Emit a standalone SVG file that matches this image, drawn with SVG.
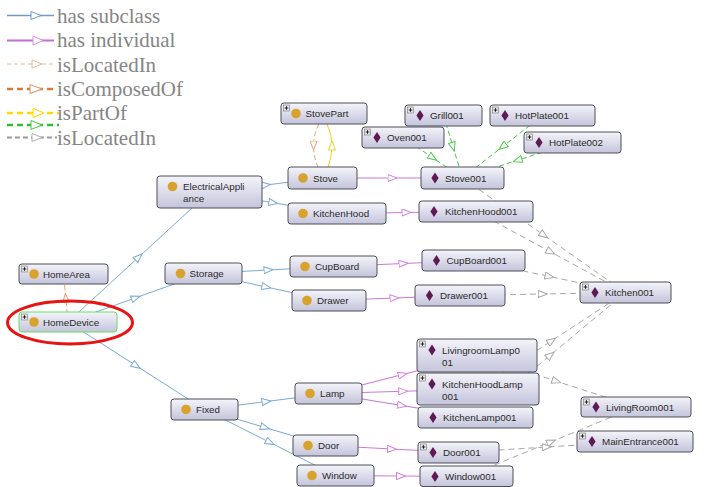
<svg xmlns="http://www.w3.org/2000/svg" xmlns:xlink="http://www.w3.org/1999/xlink" width="704" height="487" viewBox="0 0 704 487">
<defs>
<linearGradient id="nodeFill" x1="0" y1="0" x2="0" y2="1">
<stop offset="0" stop-color="#f4f4fa"/>
<stop offset="1" stop-color="#c4c4dc"/>
</linearGradient>
<marker id="mSub" viewBox="0 0 10 8" refX="5" refY="4" markerWidth="10" markerHeight="8" markerUnits="userSpaceOnUse" orient="auto"><path d="M0.5,0.5 L9.5,4 L0.5,7.5 Z" fill="#fff" stroke="#7aaad4" stroke-width="1"/></marker>
<marker id="mInd" viewBox="0 0 10 8" refX="5" refY="4" markerWidth="10" markerHeight="8" markerUnits="userSpaceOnUse" orient="auto"><path d="M0.5,0.5 L9.5,4 L0.5,7.5 Z" fill="#fff" stroke="#d67fe0" stroke-width="1"/></marker>
<marker id="mGreen" viewBox="0 0 10 8" refX="5" refY="4" markerWidth="10" markerHeight="8" markerUnits="userSpaceOnUse" orient="auto"><path d="M0.5,0.5 L9.5,4 L0.5,7.5 Z" fill="#fff" stroke="#4cc84c" stroke-width="1"/></marker>
<marker id="mGray" viewBox="0 0 10 8" refX="5" refY="4" markerWidth="10" markerHeight="8" markerUnits="userSpaceOnUse" orient="auto"><path d="M0.5,0.5 L9.5,4 L0.5,7.5 Z" fill="#fff" stroke="#a8a8a8" stroke-width="1"/></marker>
<marker id="mOrange" viewBox="0 0 10 8" refX="5" refY="4" markerWidth="10" markerHeight="8" markerUnits="userSpaceOnUse" orient="auto"><path d="M0.5,0.5 L9.5,4 L0.5,7.5 Z" fill="#fff" stroke="#e8a070" stroke-width="1"/></marker>
<marker id="mYellow" viewBox="0 0 10 8" refX="5" refY="4" markerWidth="10" markerHeight="8" markerUnits="userSpaceOnUse" orient="auto"><path d="M0.5,0.5 L9.5,4 L0.5,7.5 Z" fill="#fff" stroke="#f0d028" stroke-width="1"/></marker>
<g id="plus"><rect x="0" y="0" width="6" height="6" fill="#e6e6e6" stroke="#777" stroke-width="0.6"/><path d="M1.2,3 H4.8 M3,1.2 V4.8" stroke="#111" stroke-width="0.9"/></g>
<path id="dia" d="M0,-5.5 L3.6,0 L0,5.5 L-3.6,0 Z" fill="#5e1a52"/>
<circle id="cls" r="4.8" fill="#d8a22e"/>
</defs>
<style>
.node{fill:url(#nodeFill);stroke:#4e4e58;stroke-width:1}
.sel{stroke:#66dd66}
.lbl{font-family:"Liberation Sans",Arial,sans-serif;font-size:9.8px;fill:#2a2a2a}
.leg{font-family:"Liberation Serif","Times New Roman",serif;font-size:21px;fill:#858585}
.e{fill:none}
.sub{stroke:#7aaad4;stroke-width:1;marker-mid:url(#mSub)}
.ind{stroke:#cc77dd;stroke-width:1.2;marker-mid:url(#mInd)}
.grn{stroke:#44c844;stroke-width:1;stroke-dasharray:5,3;marker-mid:url(#mGreen)}
.gry{stroke:#a8a8a8;stroke-width:1;stroke-dasharray:6,4;marker-mid:url(#mGray)}
.org{stroke:#e8a070;stroke-width:1;stroke-dasharray:5,3;marker-mid:url(#mOrange)}
.yel{stroke:#f0d028;stroke-width:1;marker-mid:url(#mYellow)}
</style>
<rect width="704" height="487" fill="#fff"/>

<g id="legend">
<line x1="7" y1="15.5" x2="54" y2="15.5" stroke="#6d9ccb" stroke-width="1.3"/>
<path d="M31,11.5 L41,15.5 L31,19.5 Z" fill="#fff" stroke="#6d9ccb"/>
<text class="leg" x="57" y="23">has subclass</text>
<line x1="7" y1="40.5" x2="54" y2="40.5" stroke="#c070d8" stroke-width="2.2"/>
<path d="M33,36 L43,40.5 L33,45 Z" fill="#fff" stroke="#d890e6"/>
<text class="leg" x="57" y="47">has individual</text>
<line x1="7" y1="64" x2="55" y2="64" stroke="#e8b890" stroke-width="1" stroke-dasharray="4,3"/>
<path d="M32,60 L42,64 L32,68 Z" fill="#fff" stroke="#e8b890"/>
<text class="leg" x="57" y="71.5">isLocatedIn</text>
<line x1="7" y1="89" x2="56" y2="89" stroke="#d87838" stroke-width="2.5" stroke-dasharray="6,4"/>
<path d="M30,84.5 L42,89 L30,93.5 Z" fill="#fff" stroke="#e09060"/>
<text class="leg" x="57" y="96">isComposedOf</text>
<line x1="7" y1="113" x2="59" y2="113" stroke="#ffd800" stroke-width="2.5" stroke-dasharray="6,4"/>
<path d="M33,108.5 L44,113 L33,117.5 Z" fill="#fff" stroke="#ffd800"/>
<text class="leg" x="57" y="120">isPartOf</text>
<line x1="7" y1="125" x2="59" y2="125" stroke="#33bb33" stroke-width="2.5" stroke-dasharray="6,4"/>
<path d="M31,120.5 L42,125 L31,129.5 Z" fill="#fff" stroke="#44c844"/>
<line x1="7" y1="137.5" x2="57" y2="137.5" stroke="#9a9a9a" stroke-width="2" stroke-dasharray="5,3"/>
<path d="M32,133.5 L42,137.5 L32,141.5 Z" fill="#fff" stroke="#b0b0b0"/>
<text class="leg" x="57" y="145">isLocatedIn</text>
</g>

<g id="connectors">
<path class="e sub" d="M68,322 L138.75,257 L209.5,192"/>
<path class="e sub" d="M68,322 L135.75,297.75 L203.5,273.5"/>
<path class="e sub" d="M68,322 L136.25,365.75 L204.5,409.5"/>
<path class="e sub" d="M209.5,192 L266,185 L322.5,178"/>
<path class="e sub" d="M209.5,192 L273.25,202.75 L337,213.5"/>
<path class="e sub" d="M203.5,273.5 L268.5,270 L333.5,266.5"/>
<path class="e sub" d="M203.5,273.5 L266.25,287 L329,300.5"/>
<path class="e sub" d="M204.5,409.5 L266.5,401.5 L328.5,393.5"/>
<path class="e sub" d="M204.5,409.5 L265,427.5 L325.5,445.5"/>
<path class="e sub" d="M204.5,409.5 L270,442.5 L335.5,475.5"/>

<path class="e ind" d="M322.5,178 L392.5,178 L462.5,178"/>
<path class="e ind" d="M337,213.5 L406.5,212.5 L476,211.5"/>
<path class="e ind" d="M333.5,266.5 L403.5,263.5 L473.5,260.5"/>
<path class="e ind" d="M329,300.5 L394.5,298 L460,295.5"/>
<path class="e ind" d="M328.5,393.5 L402.75,374.5 L477,355.5"/>
<path class="e ind" d="M328.5,393.5 L403.25,391.25 L478,389"/>
<path class="e ind" d="M328.5,393.5 L402,405.5 L475.5,417.5"/>
<path class="e ind" d="M325.5,445.5 L392,449 L458.5,452.5"/>
<path class="e ind" d="M335.5,475.5 L401,476 L466.5,476.5"/>

<path class="e grn" d="M403,137.5 L432.75,157.75 L462.5,178"/>
<path class="e grn" d="M443.5,115.5 L453,146.75 L462.5,178"/>
<path class="e grn" d="M542.5,115.5 L502.5,146.75 L462.5,178"/>
<path class="e grn" d="M572.5,142.5 L517.5,160.25 L462.5,178"/>

<path class="e gry" d="M462.5,178 L544,235.25 L625.5,292.5"/>
<path class="e gry" d="M476,211.5 L550.75,252 L625.5,292.5"/>
<path class="e gry" d="M473.5,260.5 L549.5,276.5 L625.5,292.5"/>
<path class="e gry" d="M460,295.5 L542.75,294 L625.5,292.5"/>
<path class="e gry" d="M478,389 L551.75,340.75 L625.5,292.5"/>
<path class="e gry" d="M475.5,417.5 L550.5,355 L625.5,292.5"/>
<path class="e gry" d="M477,355.5 L556.5,381.25 L636,407"/>
<path class="e gry" d="M466.5,476.5 L551.25,441.75 L636,407"/>
<path class="e gry" d="M458.5,452.5 L546.75,447 L635,441.5"/>

<path class="e org" d="M68,322 L65.75,298 L63.5,274"/>
<path class="e org" d="M319,124 Q313.5,134 313.5,145.5 Q313.5,157 318,167"/>
<path class="e yel" d="M328,167 Q332,157 332,145.5 Q332,134 327,124"/>
</g>

<ellipse id="highlight" cx="70" cy="322.5" rx="62.5" ry="21.5" fill="none" stroke="#e81414" stroke-width="3"/>

<g id="n-HomeArea"><rect class="node" x="19" y="264" width="89" height="20" rx="3"/><use href="#plus" x="21.5" y="266"/><use href="#cls" x="34" y="274"/><text class="lbl" x="43" y="277.5">HomeArea</text></g>
<g id="n-HomeDevice"><rect class="node sel" x="19" y="312" width="98" height="20" rx="3"/><use href="#plus" x="21.5" y="314"/><use href="#cls" x="34" y="322"/><text class="lbl" x="43" y="325.5">HomeDevice</text></g>
<g id="n-Storage"><rect class="node" x="165" y="263" width="77" height="21" rx="3"/><use href="#cls" x="180.5" y="273.5"/><text class="lbl" x="189.5" y="277">Storage</text></g>
<g id="n-ElectricalAppliance"><rect class="node" x="157" y="176" width="105" height="32" rx="3"/><use href="#cls" x="172.5" y="186.5"/><text class="lbl" x="183" y="190">ElectricalAppli</text><text class="lbl" x="183" y="201.5">ance</text></g>
<g id="n-Stove"><rect class="node" x="288" y="167" width="69" height="22" rx="3"/><use href="#cls" x="303" y="178"/><text class="lbl" x="313" y="181.5">Stove</text></g>
<g id="n-KitchenHood"><rect class="node" x="288" y="203" width="98" height="21" rx="3"/><use href="#cls" x="303" y="213.5"/><text class="lbl" x="313" y="217">KitchenHood</text></g>
<g id="n-StovePart"><rect class="node" x="281" y="103" width="86" height="21" rx="3"/><use href="#plus" x="283.5" y="105"/><use href="#cls" x="296" y="113.5"/><text class="lbl" x="305.5" y="117">StovePart</text></g>
<g id="n-Stove001"><rect class="node" x="421" y="167" width="83" height="22" rx="3"/><use href="#dia" x="435" y="178"/><text class="lbl" x="445" y="181.5">Stove001</text></g>
<g id="n-KitchenHood001"><rect class="node" x="419" y="201" width="114" height="21" rx="3"/><use href="#dia" x="434" y="211.5"/><text class="lbl" x="445" y="215">KitchenHood001</text></g>
<g id="n-Grill001"><rect class="node" x="405" y="105" width="77" height="21" rx="3"/><use href="#plus" x="407.5" y="107"/><use href="#dia" x="420" y="115.5"/><text class="lbl" x="430" y="119">Grill001</text></g>
<g id="n-HotPlate001"><rect class="node" x="490" y="105" width="105" height="21" rx="3"/><use href="#plus" x="492.5" y="107"/><use href="#dia" x="505" y="115.5"/><text class="lbl" x="515" y="119">HotPlate001</text></g>
<g id="n-Oven001"><rect class="node" x="362" y="127" width="82" height="21" rx="3"/><use href="#plus" x="364.5" y="129"/><use href="#dia" x="377" y="137.5"/><text class="lbl" x="387" y="141">Oven001</text></g>
<g id="n-HotPlate002"><rect class="node" x="524" y="132" width="97" height="21" rx="3"/><use href="#plus" x="526.5" y="134"/><use href="#dia" x="539" y="142.5"/><text class="lbl" x="549" y="146">HotPlate002</text></g>
<g id="n-CupBoard"><rect class="node" x="290" y="256" width="87" height="21" rx="3"/><use href="#cls" x="305" y="266.5"/><text class="lbl" x="315" y="270">CupBoard</text></g>
<g id="n-Drawer"><rect class="node" x="292" y="290" width="74" height="21" rx="3"/><use href="#cls" x="307" y="300.5"/><text class="lbl" x="317" y="304">Drawer</text></g>
<g id="n-CupBoard001"><rect class="node" x="422" y="250" width="103" height="21" rx="3"/><use href="#dia" x="436.5" y="260.5"/><text class="lbl" x="446.5" y="264">CupBoard001</text></g>
<g id="n-Drawer001"><rect class="node" x="415" y="285" width="90" height="21" rx="3"/><use href="#dia" x="429.5" y="295.5"/><text class="lbl" x="440" y="299">Drawer001</text></g>
<g id="n-Kitchen001"><rect class="node" x="580" y="282" width="91" height="21" rx="3"/><use href="#plus" x="582.5" y="284"/><use href="#dia" x="595" y="292.5"/><text class="lbl" x="605" y="296">Kitchen001</text></g>
<g id="n-Fixed"><rect class="node" x="171" y="399" width="67" height="21" rx="3"/><use href="#cls" x="186" y="409.5"/><text class="lbl" x="196" y="413">Fixed</text></g>
<g id="n-Lamp"><rect class="node" x="295" y="383" width="67" height="21" rx="3"/><use href="#cls" x="310" y="393.5"/><text class="lbl" x="320" y="397">Lamp</text></g>
<g id="n-LivingroomLamp001"><rect class="node" x="417" y="339" width="120" height="33" rx="3"/><use href="#plus" x="419.5" y="341"/><use href="#dia" x="432" y="350"/><text class="lbl" x="442" y="353.5">LivingroomLamp0</text><text class="lbl" x="442" y="365.5">01</text></g>
<g id="n-KitchenHoodLamp001"><rect class="node" x="417" y="373" width="122" height="32" rx="3"/><use href="#plus" x="419.5" y="375"/><use href="#dia" x="432" y="384"/><text class="lbl" x="442" y="387.5">KitchenHoodLamp</text><text class="lbl" x="442" y="399.5">001</text></g>
<g id="n-KitchenLamp001"><rect class="node" x="418" y="407" width="115" height="21" rx="3"/><use href="#dia" x="433" y="417.5"/><text class="lbl" x="443" y="421">KitchenLamp001</text></g>
<g id="n-Door"><rect class="node" x="293" y="435" width="65" height="21" rx="3"/><use href="#cls" x="308" y="445.5"/><text class="lbl" x="318" y="449">Door</text></g>
<g id="n-Window"><rect class="node" x="297" y="465" width="77" height="21" rx="3"/><use href="#cls" x="312" y="475.5"/><text class="lbl" x="322" y="479">Window</text></g>
<g id="n-Door001"><rect class="node" x="418" y="442" width="81" height="21" rx="3"/><use href="#plus" x="420.5" y="444"/><use href="#dia" x="433" y="452.5"/><text class="lbl" x="443" y="456">Door001</text></g>
<g id="n-Window001"><rect class="node" x="420" y="466" width="93" height="20.5" rx="3"/><use href="#dia" x="435" y="476.5"/><text class="lbl" x="445" y="480">Window001</text></g>
<g id="n-MainEntrance001"><rect class="node" x="577" y="431" width="116" height="21" rx="3"/><use href="#plus" x="579.5" y="433"/><use href="#dia" x="592" y="441.5"/><text class="lbl" x="602" y="445">MainEntrance001</text></g>
<g id="n-LivingRoom001"><rect class="node" x="581" y="397" width="110" height="20" rx="3"/><use href="#plus" x="583.5" y="399"/><use href="#dia" x="596" y="407"/><text class="lbl" x="606" y="410.5">LivingRoom001</text></g>
</svg>
